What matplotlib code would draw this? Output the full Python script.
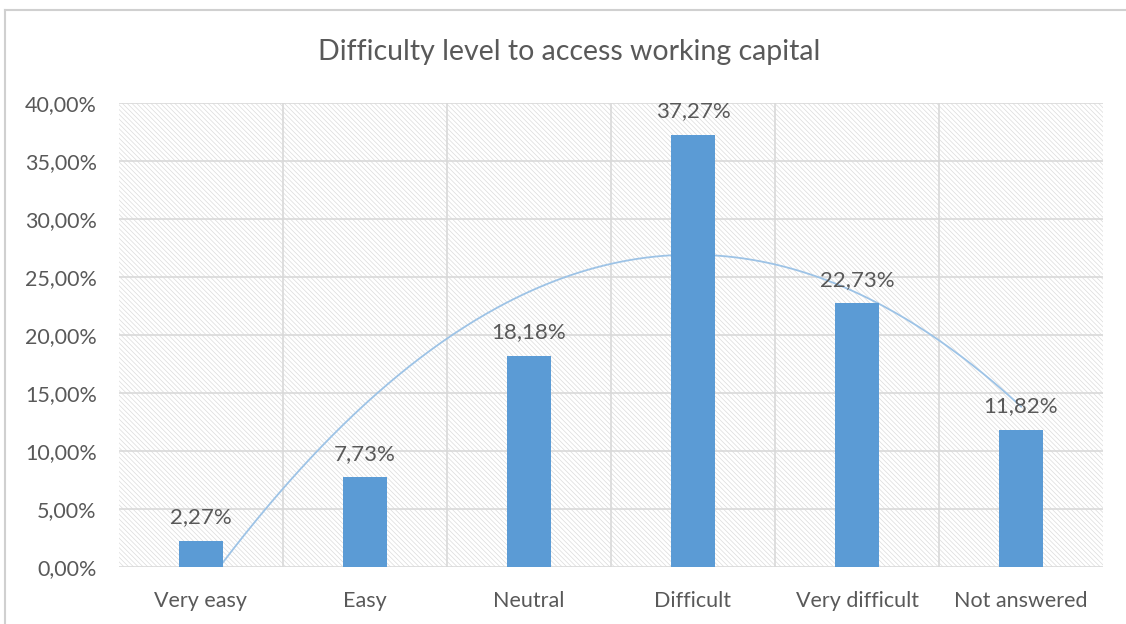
import numpy as np
import matplotlib.pyplot as plt
from matplotlib.patches import Rectangle
from matplotlib.ticker import FuncFormatter

categories = ['Very easy', 'Easy', 'Neutral', 'Difficult', 'Very difficult', 'Not answered']
shares = [2.27, 7.73, 18.18, 37.27, 22.73, 11.82]
y_ticks = [0, 5, 10, 15, 20, 25, 30, 35, 40]

plt.rcParams['font.family'] = ['Lato', 'DejaVu Sans']
plt.rcParams['hatch.linewidth'] = 0.5
plt.rcParams['hatch.color'] = '#dcdcdc'

text_grey = '#595959'
bar_blue = '#5b9bd5'
trend_blue = '#9dc3e6'
grid_grey = '#d9d9d9'

fig = plt.figure(figsize=(11.26, 6.24), dpi=100)
ax = fig.add_axes([119 / 1126, 1 - 567 / 624, 984 / 1126, 464 / 624])

# chart frame (only top and left edges are visible)
fig.add_artist(plt.Line2D([5 / 1126, 5 / 1126], [0, 1 - 10 / 624],
                          transform=fig.transFigure, color='#d0d0d0', lw=1.5))
fig.add_artist(plt.Line2D([5 / 1126, 1], [1 - 10 / 624, 1 - 10 / 624],
                          transform=fig.transFigure, color='#d0d0d0', lw=1.5))

x = np.arange(len(categories))

# hatched plot area background
ax.add_patch(Rectangle((0, 0), 1, 1, transform=ax.transAxes, facecolor='white',
                       edgecolor='#dcdcdc', hatch='\\' * 7, lw=0, zorder=0))

ax.set_xlim(-0.5, len(categories) - 0.5)
ax.set_ylim(0, 40)
ax.set_yticks(y_ticks)
ax.yaxis.set_major_formatter(FuncFormatter(lambda v, p: f'{v:.2f}%'.replace('.', ',')))
ax.set_xticks(x)
ax.set_xticklabels(categories)

for yt in y_ticks:
    ax.axhline(yt, color=grid_grey, lw=1.2, zorder=1)
for xb in np.arange(0.5, len(categories) - 0.5, 1):
    ax.axvline(xb, color=grid_grey, lw=1.2, zorder=1)

# 2nd-order polynomial trendline
coef = np.polyfit(x + 1, shares, 2)
xs = np.linspace(1, len(categories), 300)
ax.plot(xs - 1, np.polyval(coef, xs), color=trend_blue, lw=1.3, zorder=2)

ax.bar(x, shares, width=0.27, color=bar_blue, zorder=3)
for xi, v in zip(x, shares):
    ax.annotate(f'{v:.2f}%'.replace('.', ','), (xi, v), xytext=(0, 17),
                textcoords='offset points', ha='center', va='center',
                fontsize=16, color=text_grey, zorder=4)

for s in ax.spines.values():
    s.set_visible(False)
ax.tick_params(length=0, labelsize=15.5, colors=text_grey)
ax.tick_params(axis='x', pad=17)
ax.tick_params(axis='y', pad=16)

fig.text(569 / 1126, 1 - 52 / 624, 'Difficulty level to access working capital',
         ha='center', va='center', fontsize=20.5, color=text_grey)

fig.savefig('out.png', dpi=100)
